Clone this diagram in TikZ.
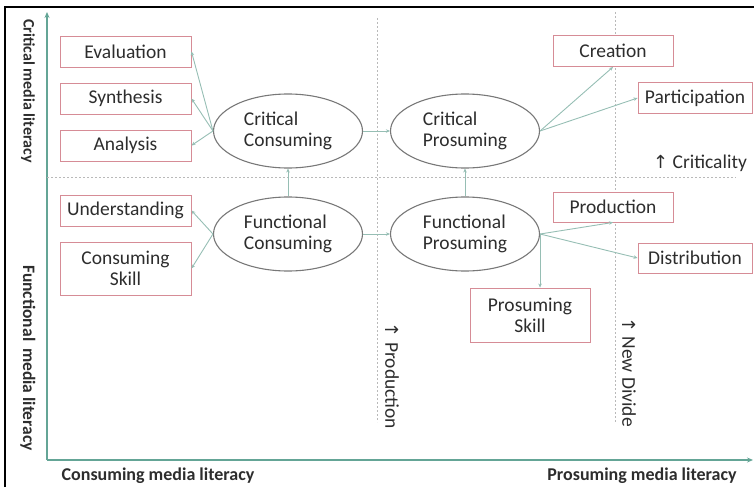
\documentclass[tikz,border=0pt]{standalone}
\usepackage{fontspec}
\setmainfont{Carlito}
\newfontfamily\arrowfont{DejaVu Sans}
\usetikzlibrary{arrows.meta,shapes.geometric}

\definecolor{boxred}{RGB}{214,140,150}
\definecolor{ellgray}{RGB}{120,120,120}
\definecolor{linkteal}{RGB}{150,190,180}
\definecolor{axisteal}{RGB}{100,165,150}
\definecolor{txtgray}{RGB}{45,45,45}
\definecolor{divgray}{RGB}{185,185,185}

\begin{document}
\begin{tikzpicture}[x=1pt,y=-1pt,
  every node/.style={text=txtgray,font=\fontsize{19.5}{21}\selectfont},
  skillbox/.style={draw=boxred,line width=0.9pt,fill=white,minimum width=131pt,minimum height=31pt,align=center,inner sep=0pt},
  litell/.style={draw=ellgray,line width=1.1pt,ellipse,fill=white,minimum width=149pt,minimum height=74pt,align=left,inner sep=0pt},
  link/.style={draw=linkteal,line width=0.9pt,-{Stealth[length=4pt,width=3.5pt]}},
  divider/.style={draw=divgray,line width=0.8pt,dash pattern=on 2pt off 2pt},
  axislabel/.style={font=\bfseries\fontsize{18}{20}\selectfont}]
\useasboundingbox (0,0) rectangle (754,487);

% frame
\draw[line width=2pt] (5,487) -- (5,7) -- (754,7);

% axes
\draw[axisteal,line width=1.3pt,-{Stealth[length=6pt,width=5pt]}] (47,460) -- (47,12);
\draw[axisteal,line width=1.3pt,-{Stealth[length=6pt,width=5pt]}] (47,460) -- (753,460);

% dividers
\draw[divider] (47,177) -- (736,177);
\draw[divider] (377,18) -- (377,422);
\draw[divider] (615,12) -- (615,422);

% skill boxes, consuming side
\node[skillbox] (eval)   at (125.5,51.5)  {Evaluation};
\node[skillbox] (synth)  at (125.5,98.5)  {Synthesis};
\node[skillbox] (anal)   at (125.5,145.5) {Analysis};
\node[skillbox] (under)  at (125.5,210.5) {Understanding};
\node[skillbox,minimum height=53pt] (cskill) at (125.5,268.5) {Consuming\\Skill};

% literacy ellipses
\node[litell] (ccons) at (288,131) {Critical\\Consuming};
\node[litell] (fcons) at (288,234) {Functional\\Consuming};
\node[litell] (cpros) at (465,131) {Critical\\Prosuming};
\node[litell] (fpros) at (465,234) {Functional\\Prosuming};

% skill boxes, prosuming side
\node[skillbox,minimum width=120pt,minimum height=31pt] (creat)  at (613,51)  {Creation};
\node[skillbox,minimum width=114pt] (partic) at (695,98)  {Participation};
\node[skillbox,minimum width=120pt,minimum height=30pt] (produc) at (613,207) {Production};
\node[skillbox,minimum width=114pt,minimum height=30pt] (distr)  at (695,258) {Distribution};
\node[skillbox,minimum width=120pt,minimum height=54pt] (pskill) at (530,315) {Prosuming\\Skill};

% links
\draw[link] (ccons.west) -- (eval.east);
\draw[link] (ccons.west) -- (synth.east);
\draw[link] (ccons.west) -- (anal.east);
\draw[link] (fcons.west) -- (under.east);
\draw[link] (fcons.west) -- (cskill.east);
\draw[link] (ccons) -- (cpros);
\draw[link] (fcons) -- (fpros);
\draw[link] (fcons) -- (ccons);
\draw[link] (fpros) -- (cpros);
\draw[link] (cpros.east) -- (creat.south);
\draw[link] (cpros.east) -- (partic.west);
\draw[link] (fpros.east) -- (produc.south);
\draw[link] (fpros.east) -- (distr.west);
\draw[link] (fpros.east) -- (fpros.east |- pskill.north);

% direction notes
\node (critnote) at (700,163) {{\arrowfont\fontsize{18}{20}\selectfont↑} Criticality};
\node[rotate=-90] (prodnote) at (392,376) {{\arrowfont\fontsize{18}{20}\selectfont↑} Production};
\node[rotate=-90] (divnote)  at (629,372) {{\arrowfont\fontsize{18}{20}\selectfont↑} New Divide};

% axis labels
\node[axislabel,font=\bfseries\fontsize{16}{18}\selectfont,rotate=-90] (critlit) at (28,91)  {Critical media literacy};
\node[axislabel,font=\bfseries\fontsize{17.5}{19}\selectfont,rotate=-90] (funclit) at (28,358) {Functional\, media literacy};
\node[axislabel] (conslit) at (158,476) {Consuming media literacy};
\node[axislabel] (proslit) at (642,476) {Prosuming media literacy};
\end{tikzpicture}
\end{document}
